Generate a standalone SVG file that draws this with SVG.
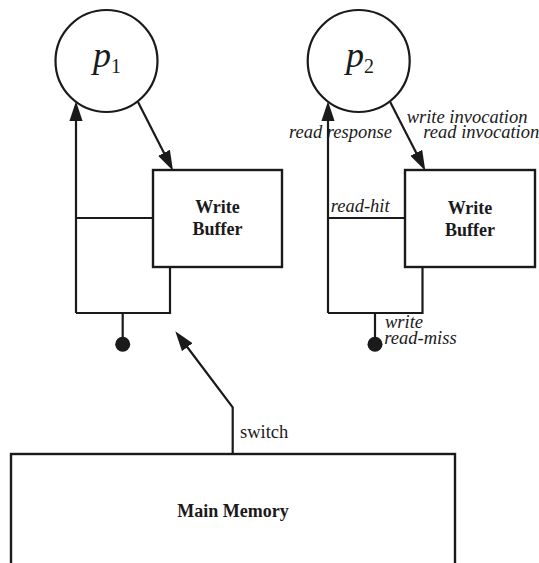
<svg xmlns="http://www.w3.org/2000/svg" width="539" height="563" viewBox="0 0 539 563">
  <style>
    .ln { fill: none; stroke: #1a1a1a; stroke-width: 2.2; stroke-linejoin: miter; }
    .box { fill: #ffffff; stroke: #1a1a1a; stroke-width: 2.4; }
    .proc { fill: #ffffff; stroke: #1a1a1a; stroke-width: 2.2; }
    .dot { fill: #1a1a1a; }
    .lbl { font-family: "Liberation Serif", "Times New Roman", serif; font-size: 18.5px; font-style: italic; fill: #1a1a1a; }
    .bold { font-family: "Liberation Serif", "Times New Roman", serif; font-size: 18px; font-weight: bold; fill: #1a1a1a; text-anchor: middle; }
    .plain { font-family: "Liberation Serif", "Times New Roman", serif; font-size: 18.5px; fill: #1a1a1a; }
    .pname { font-family: "Liberation Serif", "Times New Roman", serif; font-size: 36px; fill: #1a1a1a; text-anchor: middle; }
  </style>
  <defs>
    <marker id="arrow" markerUnits="userSpaceOnUse" markerWidth="20" markerHeight="14" viewBox="0 0 18 12" refX="12" refY="6" orient="auto">
      <path d="M0,0 L18,6 L0,12 z" fill="#1a1a1a"/>
    </marker>
  </defs>

  <!-- wiring -->
  <g id="connectors">
    <!-- processor 1 side -->
    <line class="ln" x1="76" y1="313" x2="76" y2="108" marker-end="url(#arrow)"/>
    <line class="ln" x1="138" y1="102" x2="170" y2="164.7" marker-end="url(#arrow)"/>
    <line class="ln" x1="76" y1="218" x2="153" y2="218"/>
    <polyline class="ln" points="170,267 170,313 76,313"/>
    <line class="ln" x1="122.7" y1="313" x2="122.7" y2="344"/>
    <circle class="dot" cx="122.7" cy="344.3" r="7.5"/>

    <!-- processor 2 side -->
    <line class="ln" x1="328" y1="313" x2="328" y2="108" marker-end="url(#arrow)"/>
    <line class="ln" x1="390.2" y1="102" x2="422.3" y2="164.7" marker-end="url(#arrow)"/>
    <line class="ln" x1="328" y1="218" x2="405" y2="218"/>
    <polyline class="ln" points="422.5,267 422.5,313 328,313"/>
    <line class="ln" x1="375" y1="313" x2="375" y2="344"/>
    <circle class="dot" cx="375" cy="344.3" r="7.5"/>

    <!-- memory switch -->
    <polyline class="ln" points="232.7,454 232.7,407.3 179.3,336.5" marker-end="url(#arrow)"/>

    <!-- connector labels -->
    <text class="lbl" x="406.7" y="123.3">write invocation</text>
    <text class="lbl" x="423.3" y="138.3">read invocation</text>
    <text class="lbl" x="289" y="138.3">read response</text>
    <text class="lbl" x="330.7" y="211.7">read-hit</text>
    <text class="lbl" x="385" y="328.3">write</text>
    <text class="lbl" x="384.3" y="344">read-miss</text>
    <text class="plain" x="240" y="438">switch</text>
  </g>

  <g id="p1">
    <circle class="proc" cx="106.5" cy="61" r="51"/>
    <text class="pname" x="107" y="67"><tspan font-style="italic">p</tspan><tspan font-size="20" dy="5.5">1</tspan></text>
  </g>

  <g id="p2">
    <circle class="proc" cx="358.7" cy="61" r="51"/>
    <text class="pname" x="360" y="67"><tspan font-style="italic">p</tspan><tspan font-size="20" dy="5.5">2</tspan></text>
  </g>

  <g id="buffer1">
    <rect class="box" x="153" y="170" width="129" height="97"/>
    <text class="bold" x="217.5" y="213.3">Write</text>
    <text class="bold" x="217.5" y="235">Buffer</text>
  </g>

  <g id="buffer2">
    <rect class="box" x="405" y="170" width="130" height="97"/>
    <text class="bold" x="470" y="214">Write</text>
    <text class="bold" x="470" y="236">Buffer</text>
  </g>

  <g id="memory">
    <rect class="box" x="11" y="454" width="444" height="130" stroke-width="2.6"/>
    <text class="bold" x="233" y="517" font-size="18.5">Main Memory</text>
  </g>
</svg>
